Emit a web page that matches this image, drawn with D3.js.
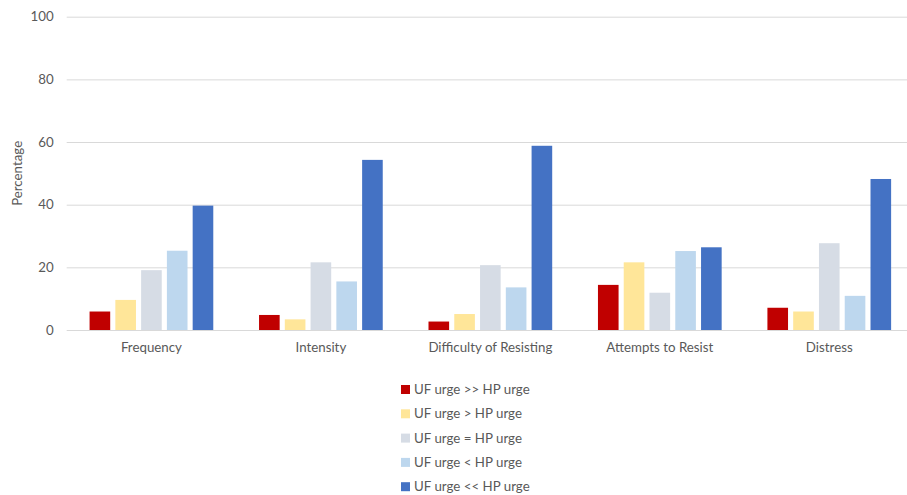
<!DOCTYPE html>
<html>
<head>
<meta charset="utf-8">
<script src="https://cdn.jsdelivr.net/npm/d3@7"></script>
<style>
  html, body { margin: 0; padding: 0; background: #fff; }
  svg { display: block; }
  text { font-family: Lato, "Noto Sans", sans-serif; fill: #595959; }
</style>
</head>
<body>
<svg id="chart" width="907" height="495"></svg>
<script>
const categories = ["Frequency", "Intensity", "Difficulty of Resisting", "Attempts to Resist", "Distress"];
const seriesNames = ["UF urge >> HP urge", "UF urge > HP urge", "UF urge = HP urge", "UF urge < HP urge", "UF urge << HP urge"];
const seriesColors = ["#C00000", "#FFE699", "#D6DCE5", "#BDD7EE", "#4472C4"];
const ufMuchGreater = [5.9, 4.8, 2.7, 14.4, 7.1];
const ufGreater     = [9.6, 3.4, 5.1, 21.6, 5.9];
const ufEqual       = [19.1, 21.6, 20.7, 11.9, 27.7];
const ufLess        = [25.3, 15.5, 13.6, 25.2, 10.9];
const ufMuchLess    = [39.7, 54.3, 58.8, 26.4, 48.2];
const yTicks = [0, 20, 40, 60, 80, 100];

const seriesValues = [ufMuchGreater, ufGreater, ufEqual, ufLess, ufMuchLess];
const data = categories.map((c, i) => ({
  category: c,
  values: seriesNames.map((s, j) => ({ series: s, idx: j, value: seriesValues[j][i] }))
}));

const svg = d3.select("#chart");
const mLeft = 66.7, mRight = 914, mTop = 16.7, mBottom = 330;

const x0 = d3.scaleBand().domain(categories).range([mLeft, mRight]).paddingInner(0.27).paddingOuter(0.135);
const x1 = d3.scaleBand().domain(seriesNames).range([0, x0.bandwidth()]).paddingInner(0.2).paddingOuter(0);
const y = d3.scaleLinear().domain([0, 100]).range([mBottom, mTop]);

// gridlines
const grid = svg.append("g").attr("class", "grid")
  .attr("transform", `translate(${mLeft},0)`)
  .call(d3.axisLeft(y).tickValues(yTicks).tickSize(-(mRight - mLeft)).tickFormat(""));
grid.select(".domain").remove();
grid.selectAll("line").attr("stroke", "#D9D9D9").attr("stroke-width", 1);

// y axis labels
const yAxis = svg.append("g")
  .attr("transform", `translate(${mLeft},0)`)
  .call(d3.axisLeft(y).tickValues(yTicks).tickSize(0).tickPadding(13));
yAxis.select(".domain").remove();
yAxis.selectAll("text").style("font-size", "13.3px").style("font-family", "Lato, sans-serif").attr("fill", "#595959");

// bars
const groups = svg.append("g").selectAll("g").data(data).join("g")
  .attr("transform", d => `translate(${x0(d.category)},0)`);
groups.selectAll("rect").data(d => d.values).join("rect")
  .attr("x", d => x1(d.series))
  .attr("width", x1.bandwidth())
  .attr("y", d => y(d.value))
  .attr("height", d => y(0) - y(d.value))
  .attr("fill", d => seriesColors[d.idx]);

// x axis labels
const xAxis = svg.append("g")
  .attr("transform", `translate(0,${mBottom})`)
  .call(d3.axisBottom(x0).tickSize(0).tickPadding(13));
xAxis.select(".domain").remove();
xAxis.selectAll("text").style("font-size", "13.3px").style("font-family", "Lato, sans-serif").attr("fill", "#595959");

// y title
svg.append("text")
  .attr("transform", `translate(22,${(mTop + mBottom) / 2}) rotate(-90)`)
  .attr("text-anchor", "middle")
  .style("font-size", "13.3px")
  .text("Percentage");

// legend
const legend = svg.append("g").attr("transform", "translate(401,0)");
const leg = legend.selectAll("g").data(seriesNames).join("g")
  .attr("transform", (d, i) => `translate(0,${389.5 + i * 24.3})`);
leg.append("rect").attr("x", 0).attr("y", -4.5).attr("width", 9).attr("height", 9)
  .attr("fill", (d, i) => seriesColors[i]);
leg.append("text").attr("x", 13).attr("y", 0).attr("dy", "0.35em")
  .style("font-size", "13.3px").text(d => d);
</script>
</body>
</html>
